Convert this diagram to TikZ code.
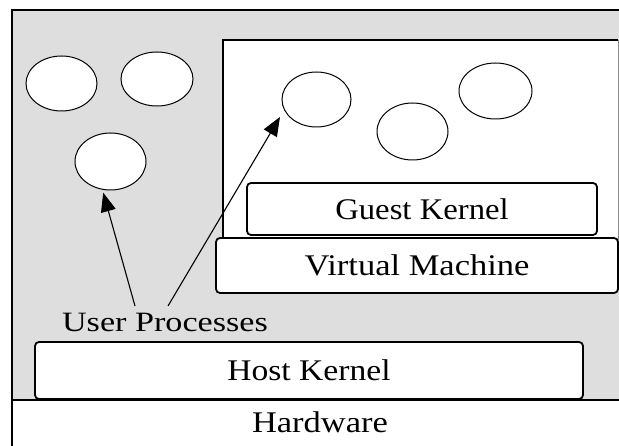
\documentclass[tikz,border=0pt]{standalone}
\usepackage{fontspec}
\setmainfont{Liberation Serif}
\usetikzlibrary{shapes.geometric,arrows.meta}
\definecolor{panelgray}{RGB}{222,222,222}

\begin{document}
\begin{tikzpicture}[x=1pt,y=-1pt,
  proc/.style={ellipse,draw,fill=white,line width=1pt,inner sep=0pt},
  layer/.style={draw,fill=white,rounded corners=4pt,line width=1.8pt,inner sep=0pt},
  lbl/.style={font=\fontsize{30}{36}\selectfont},
  ptr/.style={line width=1.1pt,-{Triangle[length=19pt,width=15pt]}}]
\useasboundingbox (0,0) rectangle (619,446);

% host side: grey panel above the hardware strip
\fill[panelgray] (12,10) rectangle (619,400);
\draw[line width=2pt] (619,10) -- (12,10) -- (12,446);
\draw[line width=1.8pt] (12,400) -- (619,400);

% guest area of the virtual machine
\fill[white] (223,40) rectangle (618,240);
\draw[line width=1.8pt] (223,240) -- (223,40) -- (618,40);
\draw[line width=1pt,black!45] (618,40) -- (618,240);

% user processes on the host
\node[proc,minimum width=71pt,minimum height=55pt] (e1) at (61.5,83.5) {};
\node[proc,minimum width=72pt,minimum height=54pt] (e2) at (157,79) {};
\node[proc,minimum width=71pt,minimum height=57pt] (e3) at (110.5,161.5) {};

% user processes inside the guest
\node[proc,minimum width=69pt,minimum height=55pt] (e4) at (316.5,99.5) {};
\node[proc,minimum width=71pt,minimum height=57pt] (e5) at (412.5,131.5) {};
\node[proc,minimum width=73pt,minimum height=56pt] (e6) at (495.5,91) {};

% software layers
\node[layer,lbl,minimum width=350pt,minimum height=52pt] (gk) at (422,209)
  {\scalebox{1.09}[1]{Guest Kernel}};
\node[layer,lbl,minimum width=402pt,minimum height=55pt] (vm) at (417,265.5)
  {\scalebox{1.15}[1]{Virtual Machine}};
\node[layer,lbl,minimum width=548pt,minimum height=57pt] (hk) at (309,370.5)
  {\scalebox{1.12}[1]{Host Kernel}};
\node[lbl,anchor=base] (hw) at (320,433) {\scalebox{1.15}[1]{Hardware}};

% label and its pointers
\node[anchor=base,font=\fontsize{28}{34}\selectfont] (up) at (165,332)
  {\scalebox{1.22}[1]{User Processes}};
\coordinate (a1) at (135,306);
\coordinate (a2) at (168,306);
\draw[ptr,shorten >=3pt] (a1) -- (e3.254);
\draw[ptr,shorten >=8pt] (a2) -- (e4.198);
\end{tikzpicture}
\end{document}
